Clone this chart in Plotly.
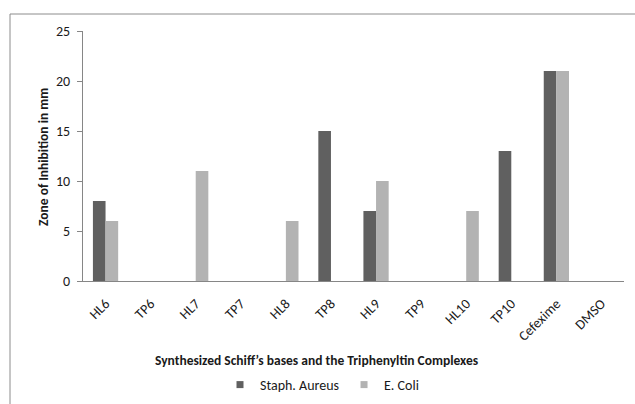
import plotly.graph_objects as go

categories = ["HL6", "TP6", "HL7", "TP7", "HL8", "TP8", "HL9", "TP9", "HL10", "TP10", "Cefexime", "DMSO"]
staph_aureus = [8, 0, 0, 0, 0, 15, 7, 0, 0, 13, 21, 0]
e_coli = [6, 0, 11, 0, 6, 0, 10, 0, 7, 0, 21, 0]
y_ticks = [0, 5, 10, 15, 20, 25]

FONT = "Carlito, Calibri, Lato, sans-serif"
TXT = "#1a1a1a"
DARK, LIGHT = "#606060", "#b3b3b3"
W, H = 635, 404
L, R, T, B = 83, 11, 31, 123
pw, ph = W - L - R, H - T - B

def px(x):
    return (x - L) / pw

def py(y):
    return (H - B - y) / ph

fig = go.Figure()
fig.add_trace(go.Bar(name="Staph. Aureus", x=categories, y=staph_aureus, showlegend=False,
                     marker=dict(color=DARK, line=dict(width=0))))
fig.add_trace(go.Bar(name="E. Coli", x=categories, y=e_coli, showlegend=False,
                     marker=dict(color=LIGHT, line=dict(width=0))))
# legend entries (square swatches)
fig.add_trace(go.Scatter(name="Staph. Aureus", x=[None], y=[None], mode="markers",
                         marker=dict(symbol="square", size=7, color=DARK)))
fig.add_trace(go.Scatter(name="E. Coli", x=[None], y=[None], mode="markers",
                         marker=dict(symbol="square", size=7, color=LIGHT)))

fig.update_layout(
    width=W, height=H,
    margin=dict(l=L, r=R, t=T, b=B, autoexpand=False),
    paper_bgcolor="white", plot_bgcolor="white",
    barmode="group", bargap=0.44, bargroupgap=0,
    font=dict(family=FONT, size=14, color=TXT),
    showlegend=True,
    legend=dict(orientation="h", xref="container", yref="container",
                x=322 / W, xanchor="center", y=(H - 385) / H, yanchor="middle",
                font=dict(family=FONT, size=14, color=TXT),
                itemwidth=30, traceorder="normal", bgcolor="rgba(0,0,0,0)"),
    xaxis=dict(showline=True, linecolor="#868686", linewidth=1, ticks="",
               tickangle=-45, showgrid=False, tickfont=dict(size=14, color=TXT),
               range=[-0.5, 11.5], automargin=False, ticklabelstandoff=8),
    yaxis=dict(range=[0, 25], tickvals=y_ticks, showline=True, linecolor="#868686",
               linewidth=1, ticks="outside", ticklen=5, tickcolor="#868686",
               showgrid=False, zeroline=False, tickfont=dict(size=14, color=TXT),
               automargin=False, ticklabelstandoff=4),
    annotations=[
        dict(text="<b>Synthesized Schiff’s bases and the Triphenyltin Complexes</b>",
             xref="paper", yref="paper", x=px(317), y=py(360), xanchor="center", yanchor="middle",
             showarrow=False, font=dict(family=FONT, size=13.5, color=TXT)),
        dict(text="<b>Zone of Inhibition in mm</b>", textangle=-90,
             xref="paper", yref="paper", x=px(43), y=py(157), xanchor="center", yanchor="middle",
             showarrow=False, font=dict(family=FONT, size=13.5, color=TXT)),
    ],
    shapes=[
        dict(type="rect", xref="paper", yref="paper", x0=px(10), x1=px(660), y0=py(440), y1=py(14),
             line=dict(color="#8c8c8c", width=1), fillcolor="rgba(0,0,0,0)", layer="below"),
    ],
)

fig.write_html("out.html", config={"displayModeBar": False},
               post_script="document.body.style.margin='0';document.body.style.overflow='hidden';")
